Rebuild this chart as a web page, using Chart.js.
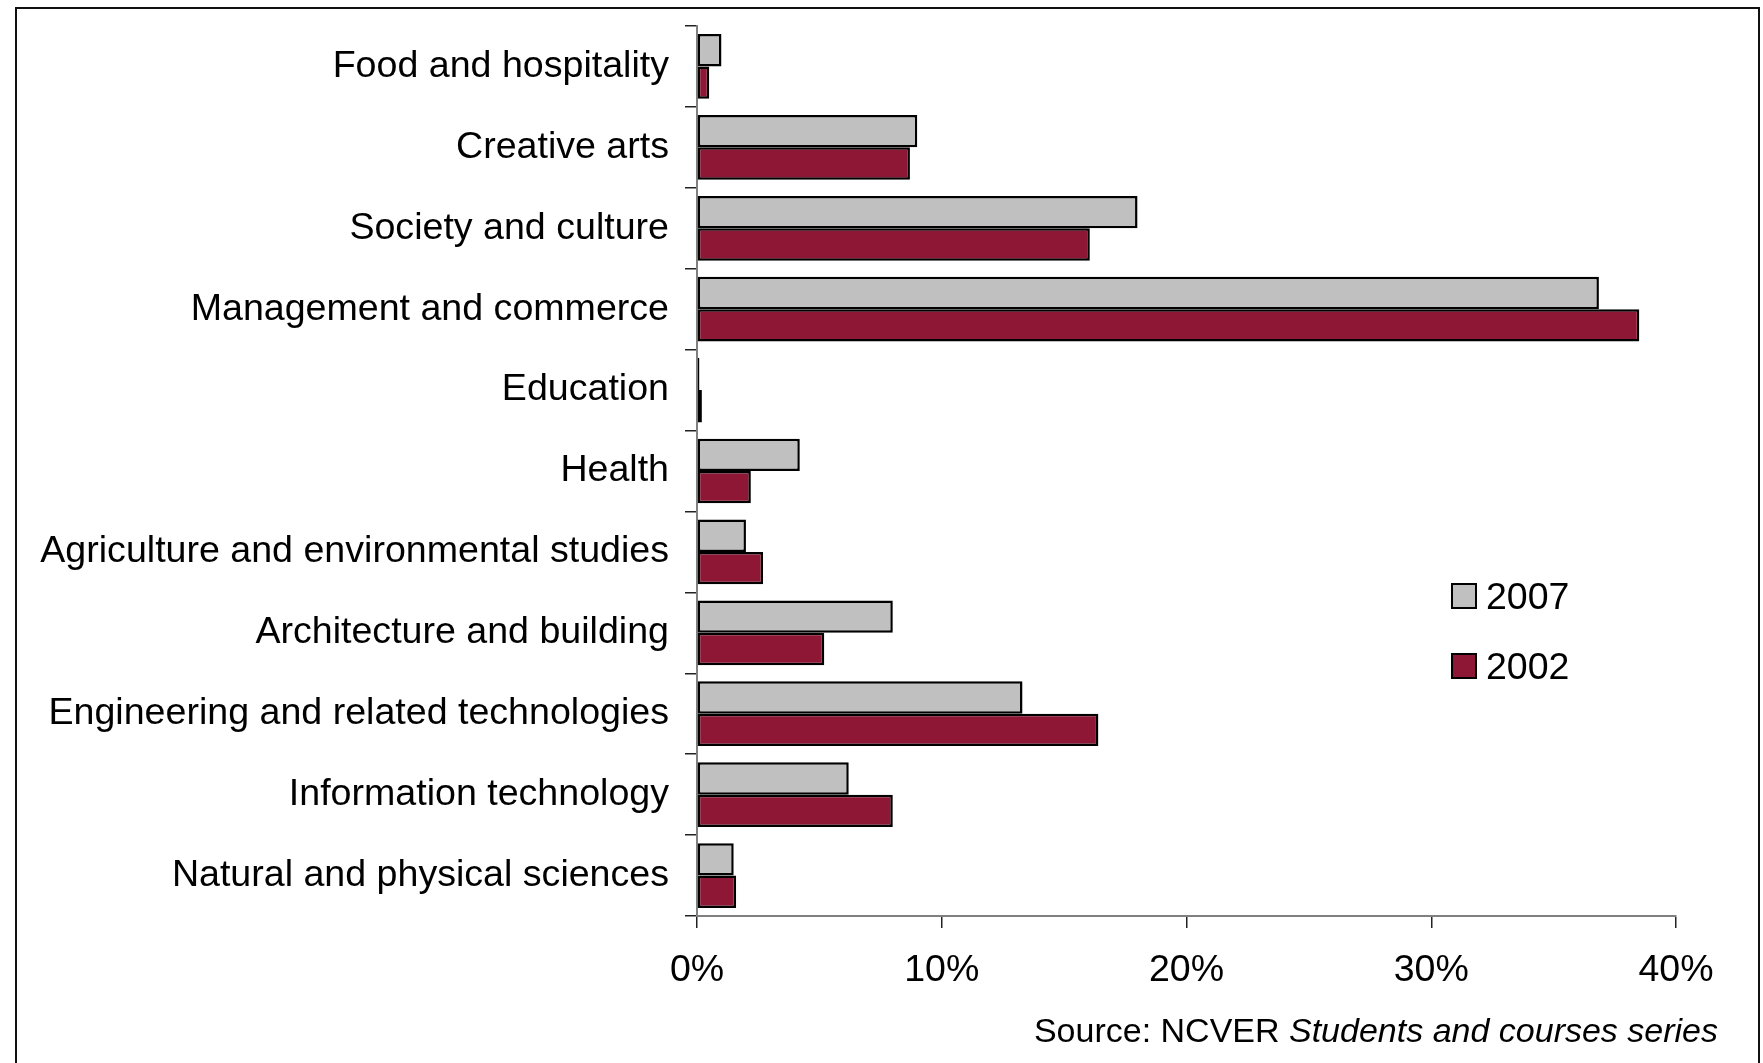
<!DOCTYPE html>
<html>
<head>
<meta charset="utf-8">
<script src="https://cdn.jsdelivr.net/npm/chart.js@4/dist/chart.umd.min.js"></script>
<style>
  html, body { margin: 0; padding: 0; background: #fff; }
  #wrap { width: 1763px; height: 1063px; position: relative; }
</style>
</head>
<body>
<div id="wrap"><canvas id="field-chart" width="1763" height="1063"></canvas></div>
<script>
const fields = [
  'Food and hospitality',
  'Creative arts',
  'Society and culture',
  'Management and commerce',
  'Education',
  'Health',
  'Agriculture and environmental studies',
  'Architecture and building',
  'Engineering and related technologies',
  'Information technology',
  'Natural and physical sciences'
]
const share2007 = [1.0, 9.0, 18.0, 36.85, 0.1, 4.2, 2.0, 8.0, 13.3, 6.2, 1.5]
const share2002 = [0.5, 8.7, 16.05, 38.5, 0.2, 2.2, 2.7, 5.2, 16.4, 8.0, 1.6]
const xTicks = [0, 10, 20, 30, 40]
const sourcePlain = 'Source: NCVER '
const sourceItalic = 'Students and courses series'

const FONT = "'Liberation Sans', Arial, sans-serif"

// frame, legend and source line drawn straight onto the canvas
const extras = {
  id: 'extras',
  beforeDraw(c) {
    const ctx = c.ctx
    ctx.save()
    ctx.strokeStyle = '#111'
    ctx.lineWidth = 2
    ctx.beginPath()
    ctx.moveTo(16, c.height)
    ctx.lineTo(16, 8)
    ctx.lineTo(1759, 8)
    ctx.lineTo(1759, c.height)
    ctx.stroke()
    ctx.restore()
  },
  afterDraw(c) {
    const ctx = c.ctx
    ctx.save()
    ctx.font = '37.5px ' + FONT
    ctx.textBaseline = 'alphabetic'
    ctx.textAlign = 'left'
    c.data.datasets.forEach((ds, i) => {
      const top = 584 + i * 70
      ctx.fillStyle = ds.backgroundColor
      ctx.fillRect(1452, top, 24, 24)
      ctx.strokeStyle = '#000'
      ctx.lineWidth = 2
      ctx.strokeRect(1452, top, 24, 24)
      ctx.fillStyle = '#000'
      ctx.fillText(ds.label, 1486, top + 25)
    })

    const right = 1718, base = 1042
    ctx.textAlign = 'right'
    ctx.font = 'italic 34px ' + FONT
    ctx.fillText(sourceItalic, right, base)
    const w = ctx.measureText(sourceItalic).width
    ctx.font = '34px ' + FONT
    ctx.fillText(sourcePlain, right - w, base)
    ctx.restore()
  }
}

new Chart(document.getElementById('field-chart'), {
  type: 'bar',
  data: {
    labels: fields,
    datasets: [{
      label: '2007',
      data: share2007,
      backgroundColor: '#C0C0C0',
      borderColor: '#000',
      borderWidth: 2.5,
      borderSkipped: false
    }, {
      label: '2002',
      data: share2002,
      backgroundColor: '#8E1736',
      borderColor: '#000',
      borderWidth: 2.5,
      borderSkipped: false
    }]
  },
  options: {
    indexAxis: 'y',
    responsive: false,
    animation: false,
    datasets: {
      bar: { categoryPercentage: 0.8, barPercentage: 1.0 }
    },
    layout: {
      padding: { top: 26, right: 87, bottom: 0, left: 0 }
    },
    scales: {
      x: {
        min: 0,
        max: 40,
        afterBuildTicks(scale) {
          scale.ticks = xTicks.map(v => ({ value: v }))
        },
        afterFit(scale) { scale.height = 147 },
        grid: {
          drawOnChartArea: false,
          tickLength: 12,
          color: '#222',
          lineWidth: 1.5
        },
        border: { color: '#808080', width: 2 },
        ticks: {
          padding: 20,
          color: '#000',
          font: { family: FONT, size: 37.5 },
          callback: v => v + '%'
        }
      },
      y: {
        afterFit(scale) {
          scale.width = 697
          scale.paddingTop = 0
          scale.paddingBottom = 0
        },
        grid: {
          drawOnChartArea: false,
          tickLength: 12,
          color: '#222',
          lineWidth: 1.5
        },
        border: { color: '#808080', width: 2 },
        ticks: {
          padding: 16,
          color: '#000',
          font: { family: FONT, size: 37.6 }
        }
      }
    },
    plugins: {
      legend: { display: false },
      tooltip: { enabled: false }
    }
  },
  plugins: [extras]
})
</script>
</body>
</html>
